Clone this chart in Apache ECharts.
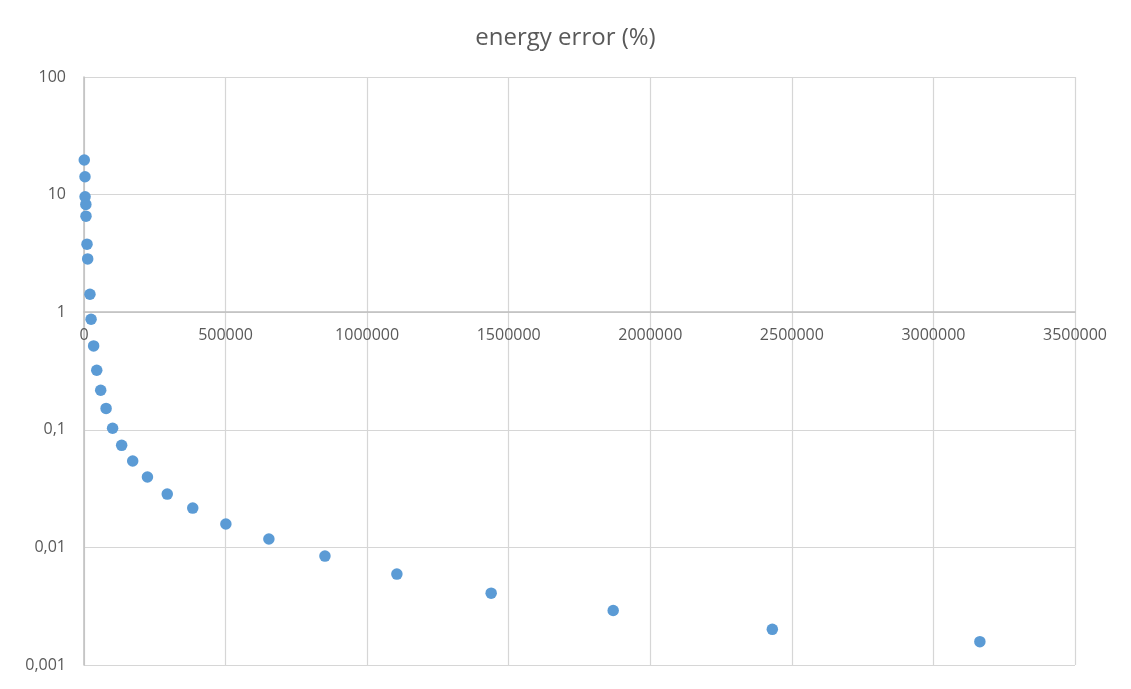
<!DOCTYPE html>
<html>
<head>
<meta charset="utf-8">
<script src="https://cdn.jsdelivr.net/npm/echarts@6/dist/echarts.min.js"></script>
<style>
html,body{margin:0;padding:0;background:#fff;}
#chart{width:1131px;height:689px;}
</style>
</head>
<body>
<div id="chart"></div>
<script>
const titleText = 'energy error (%)';
const xValues = [1000, 3500, 3800, 6500, 7000, 10600, 13000, 21000, 25000, 34000, 45000, 59000, 78000, 101000, 133000, 172000, 224000, 294000, 384000, 501000, 653000, 851000, 1105000, 1438000, 1869000, 2431000, 3164000];
const yValues = [19.7, 14.2, 9.58, 8.25, 6.56, 3.79, 2.84, 1.42, 0.872, 0.517, 0.321, 0.217, 0.152, 0.103, 0.0738, 0.0543, 0.0397, 0.0284, 0.0216, 0.0158, 0.0118, 0.00843, 0.00593, 0.00408, 0.00291, 0.00201, 0.00158];
const xMin = 0, xMax = 3500000, xStep = 500000;
const yMin = 0.001, yMax = 100;

const points = xValues.map((x, i) => [x, yValues[i]]);

const chart = echarts.init(document.getElementById('chart'));
const font = '"Open Sans", sans-serif';
chart.setOption({
  animation: false,
  backgroundColor: '#ffffff',
  title: {
    text: titleText,
    left: 'center',
    top: 21,
    textStyle: { fontFamily: font, fontSize: 24, fontWeight: 'normal', color: '#595959' }
  },
  grid: { left: 84, right: 56, top: 77, bottom: 24, containLabel: false },
  xAxis: {
    type: 'value',
    min: xMin, max: xMax, interval: xStep,
    position: 'bottom',
    offset: -353,
    axisLine: { show: true, onZero: false, lineStyle: { color: '#bfbfbf', width: 1.5 } },
    axisTick: { show: false },
    axisLabel: {
      margin: 15,
      fontFamily: font, fontSize: 16, color: '#595959',
      formatter: v => String(v)
    },
    splitLine: { show: true, lineStyle: { color: '#d6d6d6', width: 1.2 } }
  },
  yAxis: {
    type: 'log',
    logBase: 10,
    min: yMin, max: yMax,
    axisLine: { show: true, onZero: false, lineStyle: { color: '#bfbfbf', width: 1.5 } },
    axisTick: { show: false },
    axisLabel: {
      margin: 18,
      fontFamily: font, fontSize: 16, color: '#595959',
      formatter: v => String(+Number(v).toPrecision(6)).replace('.', ',')
    },
    splitLine: { show: true, lineStyle: { color: '#d6d6d6', width: 1.2 } }
  },
  series: [{
    type: 'scatter',
    data: points,
    symbol: 'circle',
    symbolSize: 11.5,
    itemStyle: { color: '#5b9bd5', opacity: 1 }
  }]
});
</script>
</body>
</html>
